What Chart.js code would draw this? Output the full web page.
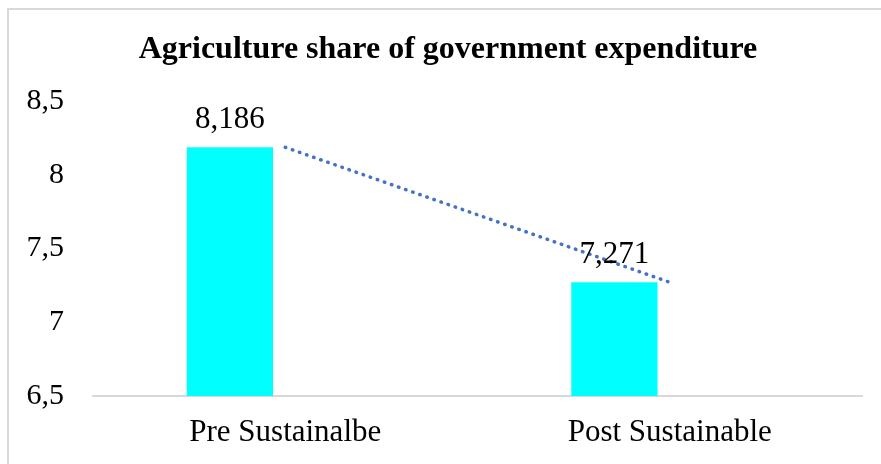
<!DOCTYPE html>
<html>
<head>
<meta charset="utf-8">
<script src="https://cdn.jsdelivr.net/npm/chart.js@4"></script>
<style>
  body { margin: 0; background: #fff; }
  #wrap { position: relative; width: 881px; height: 464px; }
  #frame { position: absolute; left: 7px; top: 8px; right: -5px; bottom: -5px;
           border-left: 2px solid #d9d9d9; border-top: 2px solid #d9d9d9; }
  canvas { position: absolute; left: 0; top: 0; }
</style>
</head>
<body>
<div id="wrap">
  <div id="frame"></div>
  <canvas id="chart"></canvas>
</div>
<script>
// ===== Data =====
const chartTitle = 'Agriculture share of government expenditure';
const categories = ['Pre Sustainalbe', 'Post Sustainable'];
const shareValues = [8.186, 7.271];
const yTicks = [6.5, 7, 7.5, 8, 8.5];

const serif = "'Liberation Serif', 'Times New Roman', serif";

// linear trendline (least squares over category index)
function linearTrend(vals) {
    const n = vals.length;
    const xs = vals.map((v, i) => i + 1);
    const mx = xs.reduce((a, b) => a + b, 0) / n;
    const my = vals.reduce((a, b) => a + b, 0) / n;
    let num = 0, den = 0;
    for (let i = 0; i < n; i++) {
        num += (xs[i] - mx) * (vals[i] - my);
        den += (xs[i] - mx) * (xs[i] - mx);
    }
    const slope = den ? num / den : 0;
    return xs.map(x => my + slope * (x - mx));
}

const fmt = v => String(v).replace('.', ',');

// title + value labels above the bars
const textLayer = {
    id: 'textLayer',
    afterDatasetsDraw(chart) {
        const ctx = chart.ctx;
        ctx.save();
        ctx.fillStyle = '#000';
        ctx.textAlign = 'center';
        ctx.textBaseline = 'alphabetic';

        ctx.font = 'bold 32px ' + serif;
        ctx.fillText(chartTitle, 448, 58);

        ctx.font = '31px ' + serif;
        chart.getDatasetMeta(1).data.forEach((bar, i) => {
            ctx.fillText(fmt(shareValues[i]), bar.x, bar.y - 19);
        });
        ctx.restore();
    }
};

const chart = new Chart(document.getElementById('chart').getContext('2d'), {
    data: {
        labels: categories,
        datasets: [
            {
                type: 'line',
                label: 'Linear trend',
                data: linearTrend(shareValues),
                borderColor: '#4472C4',
                borderWidth: 3.5,
                borderDash: [0.5, 7],
                borderCapStyle: 'round',
                pointRadius: 0,
                fill: false,
                order: 0
            },
            {
                type: 'bar',
                label: 'Share',
                data: shareValues,
                backgroundColor: '#00FFFF',
                categoryPercentage: 0.576,
                barPercentage: 0.779,
                order: 1
            },
            {
                type: 'bar',
                label: '',
                data: categories.map(() => null),
                backgroundColor: '#00FFFF',
                categoryPercentage: 0.576,
                barPercentage: 0.779,
                order: 2
            }
        ]
    },
    options: {
        responsive: true,
        maintainAspectRatio: false,
        animation: false,
        layout: { padding: { left: 0, right: 19, top: 101, bottom: 0 } },
        plugins: {
            legend: { display: false },
            tooltip: { enabled: false },
            title: { display: false }
        },
        scales: {
            x: {
                grid: { display: false, drawTicks: false },
                border: { display: true, color: '#d9d9d9', width: 2 },
                afterFit: s => { s.height = 68; },
                ticks: { color: '#000', font: { family: serif, size: 31 }, padding: 18 }
            },
            y: {
                min: yTicks[0],
                max: yTicks[yTicks.length - 1],
                grid: { display: false, drawTicks: false },
                border: { display: false },
                afterBuildTicks: s => { s.ticks = yTicks.map(v => ({ value: v })); },
                afterFit: s => { s.width = 93; },
                ticks: {
                    color: '#000',
                    font: { family: serif, size: 30 },
                    padding: 29,
                    callback: v => fmt(v)
                }
            }
        }
    },
    plugins: [textLayer]
});
</script>
</body>
</html>
